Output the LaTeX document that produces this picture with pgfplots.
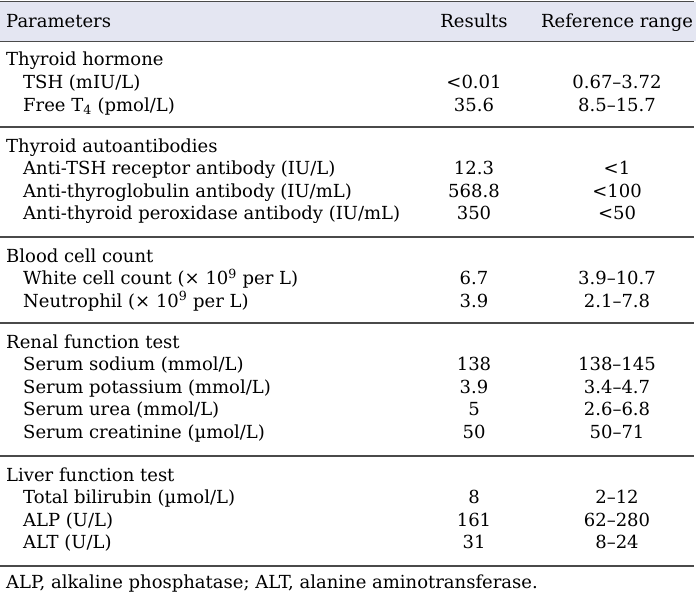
\documentclass[border=0pt]{standalone}
\usepackage{pgfplots}
\pgfplotsset{compat=1.18}
\usepackage{fontspec}
\setmainfont{DejaVu Serif}
\DeclareRobustCommand\Tfour{T\textsubscript{4}}
\DeclareRobustCommand\tennine{(\texttimes\ 10\textsuperscript{9} per L)}
\DeclareRobustCommand\fnote{ALP, alkaline phosphatase; ALT, alanine aminotransferase.}
\definecolor{band}{HTML}{E4E6F2}
\definecolor{rule}{HTML}{4A4A4A}
\tikzset{tabfont/.style={font=\fontsize{18bp}{20bp}\selectfont, inner sep=0pt, text=black}}
\begin{document}
\begin{tikzpicture}
\begin{axis}[
  scale only axis, width=696bp, height=598bp,
  xmin=0, xmax=696, ymin=0, ymax=598, y dir=reverse,
  hide axis, clip=false,
]
% header band
\addplot[fill=band, draw=none] coordinates {(0,2) (696,2) (696,41) (0,41)} -- cycle;
% rules
\addplot[rule, line width=1.8bp] coordinates {(0,1.5) (694,1.5)};
\addplot[rule, line width=1.2bp] coordinates {(0,41.5) (694,41.5)};
\addplot[rule, line width=1.2bp] coordinates {(0,127) (694,127)};
\addplot[rule, line width=1.2bp] coordinates {(0,237) (694,237)};
\addplot[rule, line width=1.2bp] coordinates {(0,323) (694,323)};
\addplot[rule, line width=1.2bp] coordinates {(0,456) (694,456)};
\addplot[rule, line width=1.2bp] coordinates {(0,566) (694,566)};
% left column
\addplot[draw=none, mark=none, nodes near coords, point meta=explicit symbolic,
  nodes near coords style={tabfont, anchor=base west}] coordinates {
  (6,28) [{Parameters}]
  (6,66) [{Thyroid hormone}]
  (23,88.5) [{TSH (mIU/L)}]
  (23,111) [{Free \Tfour\ (pmol/L)}]
  (6,152) [{Thyroid autoantibodies}]
  (23,174.5) [{Anti-TSH receptor antibody (IU/L)}]
  (23,197) [{Anti-thyroglobulin antibody (IU/mL)}]
  (23,219.5) [{Anti-thyroid peroxidase antibody (IU/mL)}]
  (6,262) [{Blood cell count}]
  (23,284.5) [{White cell count \tennine}]
  (23,307) [{Neutrophil \tennine}]
  (6,348) [{Renal function test}]
  (23,370.5) [{Serum sodium (mmol/L)}]
  (23,393) [{Serum potassium (mmol/L)}]
  (23,415.5) [{Serum urea (mmol/L)}]
  (23,438) [{Serum creatinine (µmol/L)}]
  (6,481) [{Liver function test}]
  (23,503.5) [{Total bilirubin (µmol/L)}]
  (23,526) [{ALP (U/L)}]
  (23,548.5) [{ALT (U/L)}]
  (6,588) [\fnote]
};
% results column
\addplot[draw=none, mark=none, nodes near coords, point meta=explicit symbolic,
  nodes near coords style={tabfont, anchor=base}] coordinates {
  (474,28) [{Results}]
  (474,88.5) [{<0.01}]
  (474,111) [{35.6}]
  (474,174.5) [{12.3}]
  (474,197) [{568.8}]
  (474,219.5) [{350}]
  (474,284.5) [{6.7}]
  (474,307) [{3.9}]
  (474,370.5) [{138}]
  (474,393) [{3.9}]
  (474,415.5) [{5}]
  (474,438) [{50}]
  (474,503.5) [{8}]
  (474,526) [{161}]
  (474,548.5) [{31}]
};
% reference range column
\addplot[draw=none, mark=none, nodes near coords, point meta=explicit symbolic,
  nodes near coords style={tabfont, anchor=base}] coordinates {
  (617,28) [{Reference range}]
  (617,88.5) [{0.67–3.72}]
  (617,111) [{8.5–15.7}]
  (617,174.5) [{<1}]
  (617,197) [{<100}]
  (617,219.5) [{<50}]
  (617,284.5) [{3.9–10.7}]
  (617,307) [{2.1–7.8}]
  (617,370.5) [{138–145}]
  (617,393) [{3.4–4.7}]
  (617,415.5) [{2.6–6.8}]
  (617,438) [{50–71}]
  (617,503.5) [{2–12}]
  (617,526) [{62–280}]
  (617,548.5) [{8–24}]
};
\end{axis}
\pgfresetboundingbox
\useasboundingbox (current axis.south west) rectangle (current axis.north east);
\end{tikzpicture}
\end{document}
